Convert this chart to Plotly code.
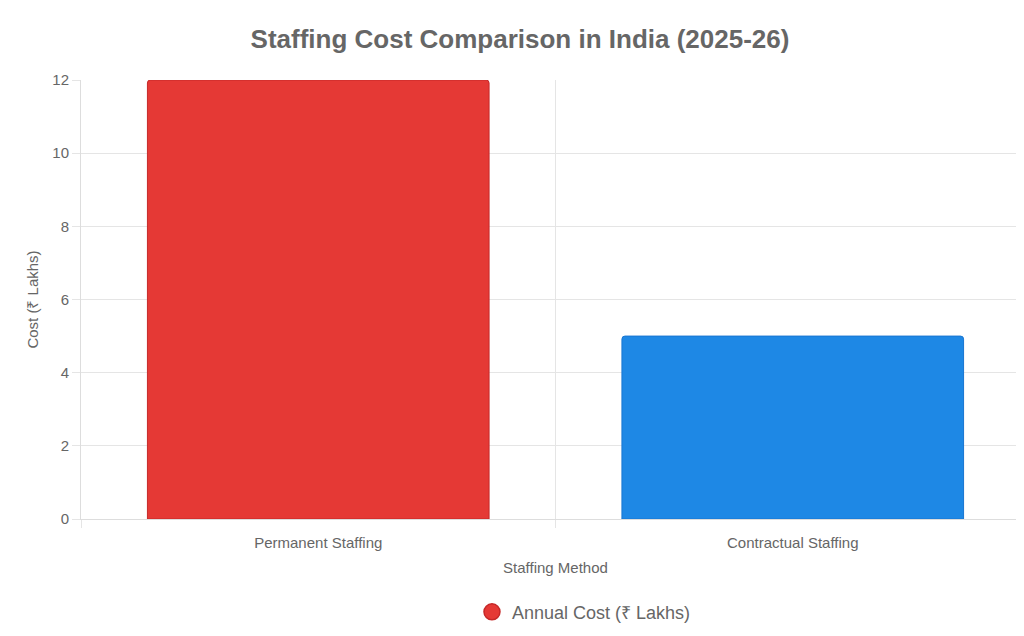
import plotly.graph_objects as go

categories = ["Permanent Staffing", "Contractual Staffing"]
costs = [12, 5]
bar_colors = ["#E53935", "#1E88E5"]
border_colors = ["#C62828", "#1976D2"]
series_name = "Annual Cost (₹ Lakhs)"

positions = list(range(len(categories)))
bounds = [p - 0.5 for p in positions] + [positions[-1] + 0.5]

fig = go.Figure()

fig.add_trace(
    go.Bar(
        x=positions,
        y=costs,
        width=0.72,
        marker=dict(color=bar_colors, line=dict(color=border_colors, width=1), cornerradius=3),
        showlegend=False,
    )
)

# legend entry drawn as a circle, like the original
fig.add_trace(
    go.Scatter(
        x=[None], y=[None], mode="markers", name=series_name,
        marker=dict(symbol="circle", size=16, color=bar_colors[0],
                    line=dict(color=border_colors[0], width=1.5)),
    )
)

# invisible trace on the second x axis so its grid is drawn
fig.add_trace(go.Scatter(x=[bounds[0]], y=[0], xaxis="x2", mode="markers",
                         marker=dict(opacity=0), showlegend=False, hoverinfo="skip"))

fig.update_layout(
    width=1024,
    height=636,
    paper_bgcolor="white",
    plot_bgcolor="white",
    font=dict(family="Liberation Sans, Arial, sans-serif", color="#666", size=15),
    title=dict(text="<b>Staffing Cost Comparison in India (2025-26)</b>",
               x=0.5, xanchor="center", y=0.965, font=dict(size=26, color="#666")),
    margin=dict(l=73, r=2, t=72, b=125),
    xaxis=dict(
        range=[bounds[0], bounds[-1]],
        tickvals=positions, ticktext=categories,
        showgrid=False, zeroline=False, ticklen=10, ticks="outside", tickcolor="white",
        title=dict(text="Staffing Method", font=dict(size=15, color="#666"), standoff=12),
        showline=True, linecolor="#ddd",
    ),
    xaxis2=dict(
        overlaying="x", matches="x", range=[bounds[0], bounds[-1]],
        tickvals=bounds, showticklabels=False, showgrid=True, gridcolor="#e5e5e5",
        ticks="outside", ticklen=8, tickcolor="#e5e5e5", side="bottom", zeroline=False,
    ),
    yaxis=dict(
        range=[0, 12], dtick=2, gridcolor="#e5e5e5", zeroline=False,
        ticks="outside", ticklen=8, tickcolor="#e5e5e5", showline=True, linecolor="#ddd",
        title=dict(text="Cost (₹ Lakhs)", font=dict(size=15, color="#666"), standoff=10),
    ),
    legend=dict(orientation="h", x=0.53, xanchor="center", y=-0.17, yanchor="top",
                font=dict(size=18, color="#666")),
    bargap=0.28,
)

fig.write_html("out.html")
